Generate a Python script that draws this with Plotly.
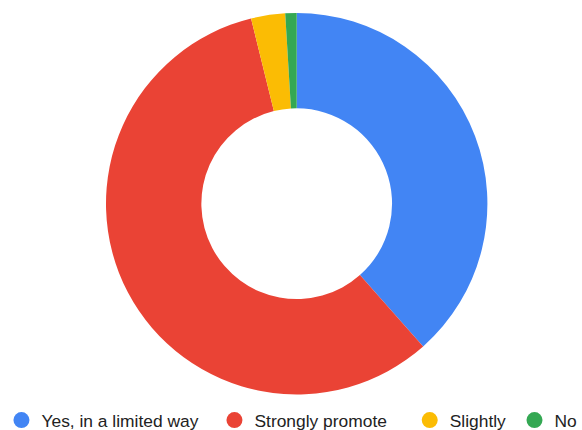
import plotly.graph_objects as go

# Survey responses
labels = ["Yes, in a limited way", "Strongly promote", "Slightly", "No"]
counts = [40, 60, 3, 1]
colors = ["#4285F4", "#EA4335", "#FBBC04", "#34A853"]

# Legend entry anchor positions (paper fraction) for each item
legend_x = [0.0025, 0.3685, 0.704, 0.884]

W, H = 582, 430

fig = go.Figure()

fig.add_trace(go.Pie(
    labels=labels,
    values=counts,
    marker=dict(colors=colors, line=dict(width=0)),
    hole=0.5,
    sort=False,
    direction="clockwise",
    rotation=0,
    textinfo="none",
    hoverinfo="label+percent",
    showlegend=False,
    domain=dict(x=[0.1821, 0.8375], y=[0.0828, 0.9698]),
))

# Circle legend entries, one legend box per category
for i, (lab, col) in enumerate(zip(labels, colors)):
    name = "legend" if i == 0 else f"legend{i + 1}"
    fig.add_trace(go.Scatter(
        x=[None], y=[None], mode="markers", name=lab,
        marker=dict(color=col, size=16, symbol="circle"),
        legend=name, showlegend=True, hoverinfo="skip",
    ))

legend_common = dict(
    orientation="h",
    xref="paper", yref="paper",
    xanchor="left", yanchor="middle",
    y=0.0226,
    bgcolor="rgba(0,0,0,0)",
    borderwidth=0,
    font=dict(family="Liberation Sans, Arial, sans-serif", size=17.4, color="#222222"),
    itemclick=False, itemdoubleclick=False,
)

layout_legends = {}
for i, lx in enumerate(legend_x):
    name = "legend" if i == 0 else f"legend{i + 1}"
    layout_legends[name] = dict(legend_common, x=lx)

fig.update_layout(
    width=W, height=H, autosize=False,
    margin=dict(l=0, r=0, t=0, b=0, autoexpand=False),
    paper_bgcolor="white", plot_bgcolor="white",
    xaxis=dict(visible=False), yaxis=dict(visible=False),
    **layout_legends,
)

fig.write_html("out.html", config={"displayModeBar": False})
